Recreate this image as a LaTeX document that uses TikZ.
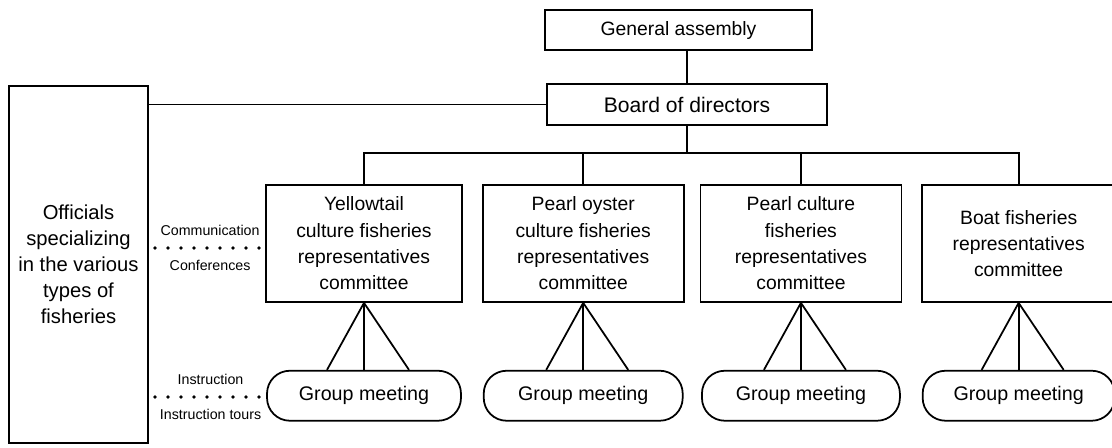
\documentclass[tikz,border=0pt]{standalone}
\usepackage{fontspec}
\setmainfont{Liberation Sans}
\usetikzlibrary{positioning}

\begin{document}
\begin{tikzpicture}[
    x=0.02cm, y=-0.02cm,
    line width=1pt,
    topbox/.style={rectangle, draw=black, text centered, inner sep=2pt},
    orgbox/.style={rectangle, draw=black, minimum height=2.34cm, align=center, font=\fontsize{11}{15}\selectfont},
    meetbox/.style={rectangle, rounded corners=13pt, draw=black, minimum height=1cm, font=\fontsize{11.2}{13}\selectfont},
    sidebox/.style={rectangle, draw=black, minimum width=2.78cm, minimum height=7.14cm, align=center, font=\fontsize{11.5}{14.8}\selectfont},
    dotlink/.style={line width=2.2pt, line cap=round, dash pattern=on 0pt off 7.4pt},
    smalltext/.style={font=\fontsize{8.1}{9}\selectfont, inner sep=1pt},
]
    \useasboundingbox (0,0) rectangle (1112,447);

    \node (assembly) [topbox, minimum width=5.34cm, minimum height=0.8cm, font=\fontsize{11}{13}\selectfont] at (678.5,30) {General assembly};
    \node (board) [topbox, minimum width=5.6cm, minimum height=0.82cm, font=\fontsize{12}{14}\selectfont] at (687,104.5) {Board of directors};

    \node (officials) [sidebox] at (78.5,264.5) {Officials\\specializing\\in the various\\types of\\fisheries};

    % committees
    \node (yellowtail) [orgbox, minimum width=3.92cm] at (364,243.5) {Yellowtail\\culture fisheries\\representatives\\committee};
    \node (oyster) [orgbox, minimum width=4.02cm, right=0.38cm of yellowtail] {Pearl oyster\\culture fisheries\\representatives\\committee};
    \node (pearl) [orgbox, minimum width=4.02cm, right=0.3cm of oyster] {Pearl culture\\fisheries\\representatives\\committee};
    \node (boat) [orgbox, minimum width=3.86cm, right=0.38cm of pearl] {Boat fisheries\\representatives\\committee};

    % group meetings
    \node (meet1) [meetbox, minimum width=3.88cm, below=1.34cm of yellowtail] {Group meeting};
    \node (meet2) [meetbox, minimum width=3.98cm, below=1.34cm of oyster] {Group meeting};
    \node (meet3) [meetbox, minimum width=3.96cm, below=1.34cm of pearl] {Group meeting};
    \node (meet4) [meetbox, minimum width=3.84cm, below=1.34cm of boat] {Group meeting};

    \coordinate (bus) at (687,153);
    \coordinate (comm) at (155,248);
    \coordinate (instr) at (155,397);

    \draw (assembly.south -| board.north) -- (board.north);
    \draw (officials.east |- board.west) -- (board.west);
    \draw (board.south) -- (bus);
    \draw (yellowtail.north) |- (bus) -| (boat.north);
    \draw (oyster.north) -- (oyster.north |- bus);
    \draw (pearl.north) -- (pearl.north |- bus);

    \foreach \c/\m in {yellowtail/meet1, oyster/meet2, pearl/meet3, boat/meet4} {
        \draw ([xshift=-0.74cm]\m.north) -- (\c.south) -- ([xshift=0.9cm]\m.north);
        \draw (\c.south) -- (\m.north);
    }

    \draw [dotlink] (comm) -- (comm -| yellowtail.west)
        node [smalltext, midway, above=5pt] {Communication}
        node [smalltext, midway, below=5pt] {Conferences};
    \draw [dotlink] (instr) -- (instr -| meet1.west)
        node [smalltext, midway, above=5pt] {Instruction}
        node [smalltext, midway, below=5pt] {Instruction tours};

\end{tikzpicture}
\end{document}
